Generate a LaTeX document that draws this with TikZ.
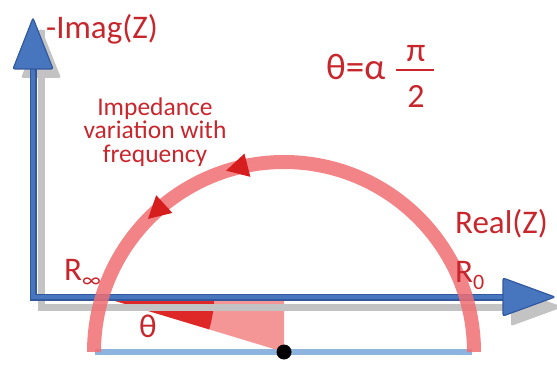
\documentclass[tikz,border=0pt]{standalone}
\usepackage{fontspec}
\setmainfont{Carlito}
\usetikzlibrary{decorations.markings}
\definecolor{axblue}{RGB}{72,118,190}
\definecolor{axdark}{RGB}{50,88,158}
\definecolor{shadowgray}{RGB}{195,195,195}
\definecolor{baseblue}{RGB}{140,180,222}
\definecolor{arcpink}{RGB}{240,110,115}
\definecolor{wedgepink}{RGB}{245,150,150}
\definecolor{wedgered}{RGB}{222,40,40}
\definecolor{txtred}{RGB}{200,38,45}
\definecolor{arrred}{RGB}{215,30,30}
\tikzset{
  lbl/.style={inner sep=0pt, text=txtred, font=\fontsize{33}{33}\selectfont},
  smalllbl/.style={inner sep=0pt, text=txtred, font=\fontsize{25.5}{25.5}\selectfont, align=center},
  axisline/.style={line width=7pt, draw=axdark},
  axisinner/.style={line width=4pt, draw=axblue},
  arrhead/.style={fill=axblue, draw=axdark, line width=1.2pt, rounded corners=2pt},
  shad/.style={line width=7pt, draw=shadowgray},
}
\begin{document}
\begin{tikzpicture}[x=1pt,y=1pt]
\useasboundingbox (0,0) rectangle (557,365);
% key points
\coordinate (O) at (33,68);
\coordinate (C) at (284,13);
\coordinate (Rinf) at (102,68);
\coordinate (Foot) at (284,68);
\coordinate (Ytip) at (33,347);
\coordinate (Xtip) at (555,68);
% baseline
\draw[baseblue, line width=6pt] (95,13) -- (472,13);
% wedge triangle
\fill[wedgepink] (Rinf) -- (Foot) -- (C) -- cycle;
\fill[wedgered] (Rinf) -- ++(-16.8:112) arc[start angle=-16.8, end angle=0, radius=112] -- cycle;
% shadows
\draw[shad] (41,335) -- (41,58) -- (545,58);
\fill[shadowgray, rounded corners=2pt] (21,287) -- (61,287) -- (41,337) -- cycle;
\fill[shadowgray, rounded corners=2pt] (511,77) -- (511,39) -- (563,58) -- cycle;
% axes
\draw[axisline] (33,297) -- (O) -- (505,68);
\draw[axisinner] (33,297) -- (O) -- (505,68);
\path[arrhead] (13,296) -- (53,296) -- (Ytip) -- cycle;
\path[arrhead] (503,87) -- (503,49) -- (Xtip) -- cycle;
% arc
\draw[arcpink, opacity=0.85, line width=14pt,
  postaction={decorate, decoration={markings,
    mark=at position 0.58 with {\fill[arrred, opacity=1] (11,0) -- (-11,12) -- (-11,-12) -- cycle;},
    mark=at position 0.735 with {\fill[arrred, opacity=1] (11,0) -- (-11,12) -- (-11,-12) -- cycle;}}}]
  (474,13) arc[start angle=0, end angle=180, radius=190];
% dot
\fill[black] (C) circle (7.5pt);
% labels
\node[lbl, anchor=base west] (imag) at (46,326) {-Imag(Z)};
\node[lbl, anchor=base west] (real) at (455,132) {Real(Z)};
\node[lbl, anchor=base west] (rinf) at (64,85) {R{\fontsize{22}{22}\selectfont\raisebox{-7pt}{∞}}};
\node[lbl, anchor=base west] (r0) at (455,83) {R{\fontsize{22}{22}\selectfont\raisebox{-7pt}{0}}};
\node[lbl, anchor=base west] (theta) at (139,28) {θ};
\node[lbl, anchor=base west, font=\fontsize{37}{37}\selectfont] (eq) at (326,285) {θ=α};
\node[lbl, anchor=base, font=\fontsize{34}{34}\selectfont] (pi) at (416,303) {π};
\node[lbl, anchor=base, font=\fontsize{34}{34}\selectfont] (two) at (416,258) {2};
\draw[txtred, line width=2pt] (396,295) -- (434,295);
\node[smalllbl, anchor=base] (imp1) at (155,250) {Impedance};
\node[smalllbl, anchor=base] (imp2) at (155,227) {variation with};
\node[smalllbl, anchor=base] (imp3) at (155,203) {frequency};
\end{tikzpicture}
\end{document}
